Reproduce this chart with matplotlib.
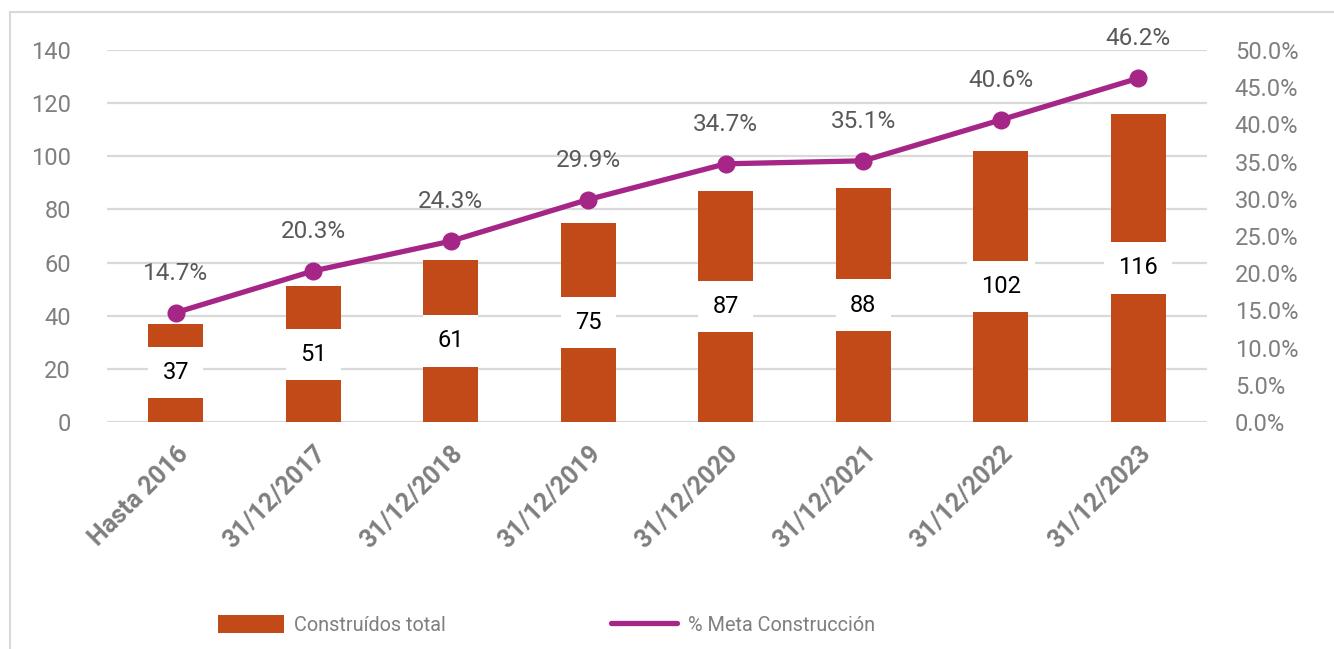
import matplotlib
matplotlib.use("Agg")
import matplotlib.pyplot as plt
from matplotlib.patches import Rectangle, Patch
from matplotlib.lines import Line2D
from matplotlib.ticker import FuncFormatter

# data
categories = ["Hasta 2016", "31/12/2017", "31/12/2018", "31/12/2019",
              "31/12/2020", "31/12/2021", "31/12/2022", "31/12/2023"]
construidos = [37, 51, 61, 75, 87, 88, 102, 116]
pct_meta = [14.7, 20.3, 24.3, 29.9, 34.7, 35.1, 40.6, 46.2]

BAR = "#C24A18"
LINE = "#A52686"
GRID = "#D9D9D9"
TICK = "#7F7F7F"
LABEL = "#595959"

plt.rcParams["font.family"] = ["Roboto", "DejaVu Sans"]

fig = plt.figure(figsize=(13.34, 6.49), dpi=100)
ax = fig.add_axes([0.0802, 0.3498, 0.8246, 0.5732])
ax2 = ax.twinx()

x = list(range(len(categories)))
ax.bar(x, construidos, width=0.4, color=BAR, zorder=2)
for xi, v in zip(x, construidos):
    ax.text(xi, v / 2, str(v), ha="center", va="center", fontsize=17,
            color="black", zorder=4,
            bbox=dict(boxstyle="square,pad=0.6", fc="white", ec="none"))

ax.set_xlim(-0.5, len(categories) - 0.5)
ax.set_ylim(0, 140)
ax.set_yticks(range(0, 141, 20))
ax.grid(axis="y", color=GRID, linewidth=1.6, zorder=0)
ax.set_axisbelow(True)
ax.set_xticks(x)
ax.set_xticklabels(categories, rotation=45, ha="right", rotation_mode="anchor",
                   fontsize=18, fontweight="bold", color=TICK)
ax.tick_params(axis="x", length=0, pad=14)
ax.tick_params(axis="y", length=0, pad=26, labelsize=17, labelcolor=TICK)

ax2.plot(x, [p / 100 for p in pct_meta], color=LINE, linewidth=3.8,
         marker="o", markersize=12, zorder=5, solid_capstyle="round")
for xi, p in zip(x, pct_meta):
    ax2.annotate(f"{p:.1f}%", (xi, p / 100), xytext=(0, 20),
                 textcoords="offset points", ha="center", va="bottom",
                 fontsize=17.5, color=LABEL)
ax2.set_ylim(0, 0.5)
ax2.set_yticks([i * 0.05 for i in range(11)])
ax2.yaxis.set_major_formatter(FuncFormatter(lambda v, _: f"{v * 100:.1f}%"))
ax2.tick_params(axis="y", length=0, pad=20, labelsize=17, labelcolor=TICK)

for a in (ax, ax2):
    for s in a.spines.values():
        s.set_visible(False)

# outer light frame
fig.patches.append(Rectangle((10 / 1334, -0.01), 1.1, 1 - 12 / 649 + 0.01,
                             transform=fig.transFigure, fill=False,
                             edgecolor=GRID, linewidth=1.5))

handles = [Patch(facecolor=BAR, edgecolor="none"),
           Line2D([0], [0], color=LINE, linewidth=3.8, solid_capstyle="round")]
fig.legend(handles, ["Construídos total", "% Meta Construcción"],
           loc="center left", bbox_to_anchor=(0.15, 0.037), ncol=2,
           frameon=False, fontsize=14.3, labelcolor=TICK,
           handlelength=3.3, handleheight=1.0, columnspacing=8.3,
           handletextpad=0.55)

fig.savefig("out.png", dpi=100)
